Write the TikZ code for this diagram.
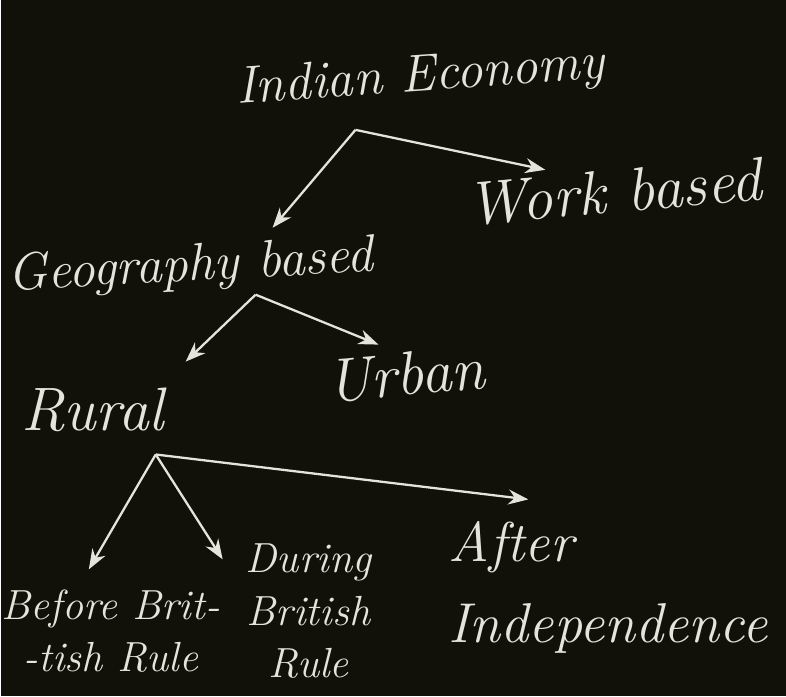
\documentclass[tikz,border=0pt]{standalone}
\usepackage{tikz}
\usetikzlibrary{arrows.meta, positioning, calc}
\definecolor{boardblack}{HTML}{111109}
\definecolor{chalkwhite}{HTML}{E4E4DA}

\begin{document}
\begin{tikzpicture}[x=0.02cm, y=-0.02cm,
    chalk/.style={text=chalkwhite, font=\fontsize{30}{34}\selectfont\itshape,
                  inner sep=1pt, align=center},
    chalksmall/.style={chalk, font=\fontsize{24}{30}\selectfont\itshape},
    chalkbig/.style={chalk, font=\fontsize{35}{38}\selectfont\itshape},
    chalkarrow/.style={-{Stealth[length=4mm, width=3mm]}, draw=chalkwhite,
                       line width=1.3pt}]
    \fill[boardblack] (0,0) rectangle (786,697);

    \node[chalk, rotate=4] (econ) at (420,78) {Indian Economy};
    \node[chalkbig, rotate=5] (work) at (614,192) {Work based};
    \node[chalk, rotate=3] (geo) at (190,268) {Geography based};
    \node[chalkbig] (rural) at (92,410) {Rural};
    \node[chalkbig, rotate=5] (urban) at (405,375) {Urban};
    \node[chalksmall] (before) at (110,632) {Before Brit-\\-tish Rule};
    \node[chalksmall] (during) at (308,612) {During\\British\\Rule};
    \node[chalk, font=\fontsize{32}{46}\selectfont\itshape, align=left]
      (after) at (608,588) {After\\Independence};

    \coordinate (econFork) at ($(econ)+(-65,52)$);
    \coordinate (geoFork) at ($(geo)+(65,27)$);
    \coordinate (ruralFork) at ($(rural)+(63,45)$);

    \draw[chalkarrow] (econFork) -- ($(geo)+(82,-40)$);
    \draw[chalkarrow] (econFork) -- ($(work)+(-69,-22)$);
    \draw[chalkarrow] (geoFork) -- ($(rural)+(93,-48)$);
    \draw[chalkarrow] (geoFork) -- ($(urban)+(-27,-30)$);
    \draw[chalkarrow] (ruralFork) -- ($(before)+(-22,-62)$);
    \draw[chalkarrow] (ruralFork) -- ($(during)+(-86,-52)$);
    \draw[chalkarrow] (ruralFork) -- ($(after)+(-80,-88)$);
\end{tikzpicture}
\end{document}
